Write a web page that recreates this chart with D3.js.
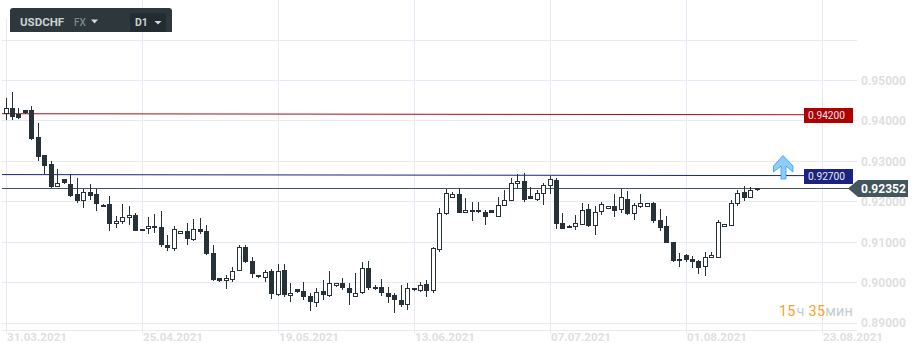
<!DOCTYPE html>
<html><head><meta charset="utf-8">
<script src="https://cdn.jsdelivr.net/npm/d3@7/dist/d3.min.js"></script>
<style>html,body{margin:0;padding:0;background:#fff}svg{display:block;font-family:Roboto,sans-serif}</style>
</head><body><svg id="c" width="920" height="356"></svg>
<script>
const opens=[.94178,.94326,.94178,.94259,.94259,.93592,.93148,.92926,.92365,.92573,.92449,.92202,.92020,.92252,.92202,.91881,.91938,.91452,.91501,.91600,.91684,.91338,.91304,.91388,.91363,.90919,.90835,.91190,.91264,.91032,.91314,.91264,.90721,.90104,.90020,.90079,.90277,.90869,.90523,.90178,.90119,.90277,.89699,.90301,.89674,.89832,.89783,.89659,.89501,.89783,.89650,.89896,.89980,.89857,.89650,.89724,.90351,.89822,.89882,.89733,.89684,.89561,.89427,.89798,.89798,.89956,.89773,.90815,.91704,.92104,.92202,.91728,.91758,.91807,.91758,.91807,.91625,.91906,.92030,.92449,.92523,.92153,.92044,.92202,.92400,.92548,.91486,.91412,.91378,.91427,.91832,.91402,.91758,.91832,.91906,.91807,.92079,.91709,.91872,.91881,.91980,.91543,.91395,.90993,.90523,.90672,.90573,.90523,.90375,.90598,.90622,.91388,.91412,.91955,.92252,.92104,.92351];
const closes=[.94326,.94111,.94069,.94178,.93543,.93106,.92884,.92365,.92474,.92464,.92160,.92020,.92252,.92143,.91946,.91931,.91452,.91536,.91635,.91684,.91279,.91279,.91388,.91328,.90909,.90835,.91338,.91264,.91057,.91314,.91240,.90686,.90045,.90020,.90104,.90291,.90869,.90489,.90193,.90119,.90267,.89699,.90291,.89674,.89748,.89748,.89625,.89501,.89773,.89674,.89980,.89980,.89847,.89724,.89748,.90351,.89847,.89882,.89724,.89625,.89551,.89427,.89857,.89857,.89946,.89773,.90844,.91733,.92227,.92202,.91728,.91807,.91807,.91748,.91625,.91723,.91931,.92054,.92474,.92523,.92044,.92069,.92227,.92425,.92573,.91452,.91328,.91353,.91486,.91807,.91402,.91758,.91955,.91906,.91773,.92128,.91699,.91931,.91980,.91980,.91526,.91353,.90968,.90514,.90573,.90538,.90489,.90351,.90622,.90672,.91511,.91452,.91980,.92227,.92104,.92301,.92301];
const highs=[.94555,.94704,.94308,.94259,.94358,.93938,.93148,.93000,.92802,.92573,.92679,.92580,.92309,.92432,.92309,.91955,.92136,.91659,.91938,.91889,.91716,.91338,.91635,.91691,.91783,.91165,.91388,.91264,.91462,.91585,.91610,.91437,.90919,.90104,.90178,.90375,.90919,.90919,.90622,.90178,.90301,.90326,.90449,.90449,.89980,.89832,.90005,.89733,.89857,.90054,.90277,.89980,.90104,.89980,.90227,.90499,.90523,.89931,.90079,.89882,.89733,.89931,.89980,.89857,.90005,.90054,.90869,.91857,.92321,.92247,.92351,.92104,.91988,.91988,.91807,.91807,.92128,.92301,.92597,.92696,.92721,.92375,.92301,.92474,.92647,.92597,.91733,.91427,.91684,.91980,.91955,.91906,.92005,.91906,.92202,.92326,.92276,.91980,.92202,.91980,.92005,.91832,.91659,.90993,.90721,.90696,.90647,.90548,.90746,.90746,.91543,.91452,.92054,.92301,.92400,.92375,.92351];
const lows=[.94012,.94012,.94044,.94178,.93518,.93000,.92679,.92341,.92365,.92440,.92118,.91970,.91847,.92037,.91773,.91881,.91279,.91353,.91452,.91427,.91279,.91279,.91205,.91230,.90884,.90785,.90785,.91190,.90933,.91032,.91205,.90686,.90045,.90020,.89847,.90020,.90277,.90489,.90119,.90119,.90020,.89600,.89674,.89650,.89526,.89748,.89575,.89304,.89403,.89575,.89650,.89896,.89822,.89452,.89650,.89724,.89822,.89822,.89674,.89501,.89254,.89403,.89329,.89798,.89773,.89650,.89748,.90761,.91684,.92104,.91728,.91728,.91526,.91723,.91427,.91723,.91625,.91906,.92030,.92326,.91995,.92069,.92020,.91921,.92202,.91328,.91328,.91353,.91304,.91427,.91378,.91180,.91684,.91832,.91625,.91723,.91674,.91551,.91847,.91881,.91477,.91279,.90968,.90514,.90390,.90514,.90365,.90218,.90168,.90598,.90622,.91388,.91412,.91889,.92020,.92104,.92266];
const priceTicks=[.95,.94,.93,.92,.91,.90,.89];
const gridPrices=[.96,.95,.94,.93,.92,.91,.90,.89];
const dateIndex=[0,21,42,63,84,105,126];
const dateLabels=["31.03.2021","25.04.2021","19.05.2021","13.06.2021","07.07.2021","01.08.2021","23.08.2021"];
const levelLabels=["0.94200","0.92700"];
const levelStart=[.94178,.92672];
const levelEnd=[.94153,.92647];
const levelColors=["#a80f0f","#1a2380"];
const lastPrice=.92326, lastLabel="0.92352";
const symbol="USDCHF", market="FX", period="D1";

const svg=d3.select("#c");
const x=d3.scaleLinear().domain([0,21]).range([6.5,142.5]);
const y=d3.scaleLinear().domain([.89,.95]).range([323,80.5]);
const GRID="#e9e9f6", DARK="#263238";
const px=i=>Math.floor(x(i)-.5);

// grid
svg.append("g").selectAll("line").data(gridPrices).join("line")
 .attr("x1",2).attr("x2",857).attr("y1",d=>Math.floor(y(d))+.5).attr("y2",d=>Math.floor(y(d))+.5)
 .attr("stroke",GRID);
svg.append("line").attr("x1",2).attr("x2",857).attr("y1",330.5).attr("y2",330.5).attr("stroke",GRID);
svg.append("g").selectAll("line").data(dateIndex).join("line")
 .attr("x1",d=>x(d)).attr("x2",d=>x(d)).attr("y1",(d,i)=>i==0?18:0).attr("y2",334)
 .attr("stroke",GRID);

// axes
const yAxis=d3.axisRight(y).tickValues(priceTicks).tickFormat(d3.format(".5f")).tickSize(0).tickPadding(0);
const yg=svg.append("g").attr("transform","translate(861,0)").call(yAxis);
yg.select(".domain").remove();
yg.selectAll("text").attr("fill","#dfdfdf").attr("font-size",12).attr("font-weight",700).attr("font-family","Roboto");
const xAxis=d3.axisBottom(x).tickValues(dateIndex).tickFormat((d,i)=>dateLabels[i]).tickSize(0).tickPadding(0);
const xg=svg.append("g").attr("transform","translate(0,333)").call(xAxis);
xg.select(".domain").remove();
xg.selectAll("text").attr("fill","#dfdfdf").attr("font-size",11.6).attr("font-weight",700).attr("font-family","Roboto").attr("text-anchor","start");

// levels
levelLabels.forEach((t,k)=>{
 svg.append("line").attr("x1",2).attr("x2",804).attr("y1",y(levelStart[k])).attr("y2",y(levelEnd[k])).attr("stroke",levelColors[k]).attr("stroke-width",1);
});
svg.append("line").attr("x1",2).attr("x2",850).attr("y1",Math.floor(y(lastPrice))+.5).attr("y2",Math.floor(y(lastPrice))+.5).attr("stroke","#45555e");

// candles
const idx=d3.range(opens.length);
const g=svg.append("g").attr("shape-rendering","crispEdges");
g.selectAll("line").data(idx).join("line")
 .attr("x1",i=>px(i)+.5).attr("x2",i=>px(i)+.5)
 .attr("y1",i=>Math.round(y(highs[i]))).attr("y2",i=>Math.round(y(lows[i])))
 .attr("stroke",DARK);
g.selectAll("rect").data(idx).join("rect")
 .attr("x",i=>px(i)-2+(closes[i]>opens[i]?.5:0))
 .attr("y",i=>Math.round(y(Math.max(opens[i],closes[i])))+(closes[i]>opens[i]?.5:0))
 .attr("width",i=>closes[i]>opens[i]?4:5)
 .attr("height",i=>Math.max(1,Math.round(Math.abs(y(opens[i])-y(closes[i]))))-(closes[i]>opens[i]?1:0))
 .attr("fill",i=>closes[i]>opens[i]?"#fff":DARK)
 .attr("stroke",i=>closes[i]>opens[i]?DARK:"none");

// level tags
levelLabels.forEach((t,k)=>{
 const cy=Math.round(y(levelEnd[k]));
 svg.append("rect").attr("x",804).attr("y",cy-7).attr("width",49).attr("height",15).attr("fill",k==0?"#b00000":"#1a2380");
 svg.append("text").attr("x",808).attr("y",cy+4).attr("fill","#e8e8f0").attr("font-size",10.2).text(t);
});
// last tag
svg.append("path").attr("d","M848 188.5L858 180H908V197H858Z").attr("fill","#45555e");
svg.append("text").attr("x",861).attr("y",193).attr("fill","#fff").attr("font-size",12).attr("font-weight",700).text(lastLabel);

// arrow
svg.append("path").attr("d","M783 155.5L793 166V172L786 166V179H781V166L773.5 172V166Z")
 .attr("fill","#8ccdfd").attr("stroke","#2d9cf0").attr("stroke-width",.8);

// timer
const tm=svg.append("text").attr("x",779).attr("y",316).attr("font-size",14.4).attr("letter-spacing",.2);
tm.append("tspan").attr("fill","#fa9f28").text("15");
tm.append("tspan").attr("fill","#c5cbcf").attr("dx",1).text("ч");
tm.append("tspan").attr("fill","#fa9f28").attr("dx",4).text("35");
tm.append("tspan").attr("fill","#c5cbcf").text("мин");

// toolbar
svg.append("path").attr("d","M10 32V11Q10 8 13 8H169Q172 8 172 11V32Z").attr("fill","#2e383c");
svg.append("rect").attr("x",130).attr("y",13).attr("width",36).attr("height",19).attr("rx",2).attr("fill","#232c30");
svg.append("text").attr("x",20).attr("y",26).attr("fill","#ccd1d3").attr("font-size",11.5).attr("font-weight",700).text(symbol);
svg.append("text").attr("x",74).attr("y",26).attr("fill","#78868c").attr("font-size",10).attr("font-weight",500).text(market);
svg.append("text").attr("x",135).attr("y",26).attr("fill","#ccd1d3").attr("font-size",10.5).attr("font-weight",700).text(period);
["M91 19.5H98L94.5 23.5Z","M154.5 21H161.5L158 24.5Z"].forEach(d=>svg.append("path").attr("d",d).attr("fill","#d5d9db"));
</script></body></html>
